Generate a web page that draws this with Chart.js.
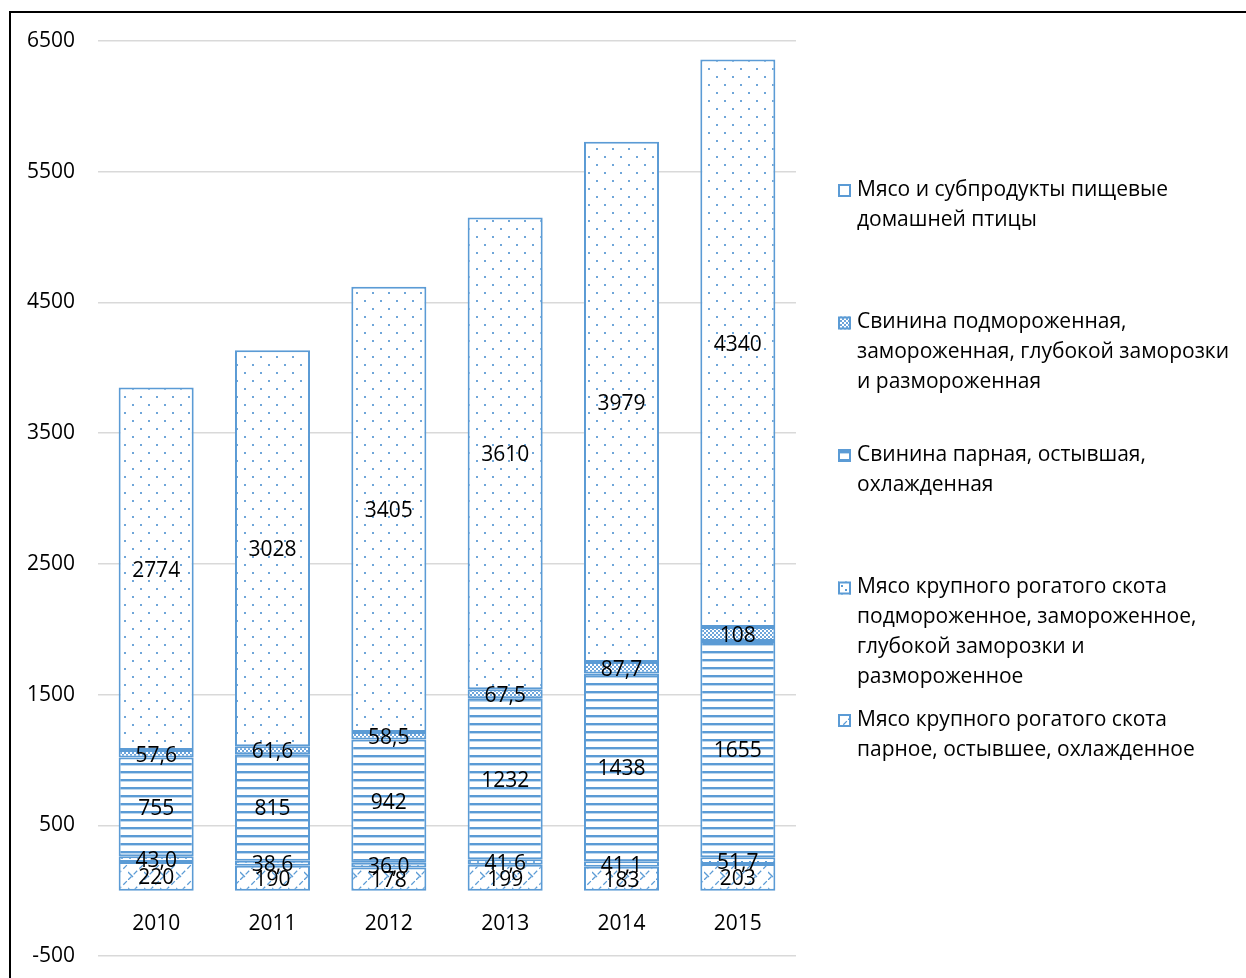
<!DOCTYPE html>
<html>
<head>
<meta charset="utf-8">
<script src="https://cdn.jsdelivr.net/npm/chart.js@4.4.1/dist/chart.umd.min.js"></script>
<style>
html, body { margin: 0; padding: 0; background: #fff; }
#wrap { position: relative; width: 1246px; height: 978px; overflow: hidden; }
#frame { position: absolute; left: 9px; top: 11px; width: 1260px; height: 1010px; border: 2px solid #000; box-sizing: border-box; pointer-events: none; }
canvas { position: absolute; left: 0; top: 0; }
</style>
</head>
<body>
<div id="wrap">
  <canvas id="chart" width="1246" height="978"></canvas>
  <div id="frame"></div>
</div>
<script>
// Данные
const years = ['2010', '2011', '2012', '2013', '2014', '2015'];
const beefChilled = [220, 190, 178, 199, 183, 203];
const beefFrozen = [43.0, 38.6, 36.0, 41.6, 41.1, 51.7];
const porkChilled = [755, 815, 942, 1232, 1438, 1655];
const porkFrozen = [57.6, 61.6, 58.5, 67.5, 87.7, 108];
const poultry = [2774, 3028, 3405, 3610, 3979, 4340];
const yTicks = [-500, 500, 1500, 2500, 3500, 4500, 5500, 6500];

// Подписи легенды (по строкам, как в оригинале)
const nameBeefChilled = ['Мясо крупного рогатого скота', 'парное, остывшее, охлажденное'];
const nameBeefFrozen = ['Мясо крупного рогатого скота', 'подмороженное, замороженное,', 'глубокой заморозки и', 'размороженное'];
const namePorkChilled = ['Свинина парная, остывшая,', 'охлажденная'];
const namePorkFrozen = ['Свинина подмороженная,', 'замороженная, глубокой заморозки', 'и размороженная'];
const namePoultry = ['Мясо и субпродукты пищевые', 'домашней птицы'];

const BLUE = '#5b9bd5';
const FONT = '"Open Sans", "Noto Sans", sans-serif';

const ctx = document.getElementById('chart').getContext('2d');

// Штриховки
function makePattern(size, draw) {
    const c = document.createElement('canvas');
    c.width = size;
    c.height = size;
    const g = c.getContext('2d');
    g.fillStyle = '#fff';
    g.fillRect(0, 0, size, size);
    draw(g);
    return ctx.createPattern(c, 'repeat');
}

const patPoultry = makePattern(16, g => {
    g.fillStyle = '#6fa6d9';
    g.fillRect(4, 4, 2, 2);
    g.fillRect(12, 12, 2, 2);
});
const patPorkFrozen = makePattern(4, g => {
    g.fillStyle = '#6ea5da';
    g.fillRect(0, 0, 2, 2);
    g.fillRect(2, 2, 2, 2);
});
const patPorkChilled = makePattern(8, g => {
    g.fillStyle = BLUE;
    g.fillRect(0, 3, 8, 2.4);
});
const patBeefFrozen = makePattern(8, g => {
    g.fillStyle = BLUE;
    g.fillRect(1, 1, 2, 2);
    g.fillRect(5, 5, 2, 2);
});
const patBeefChilled = makePattern(16, g => {
    g.strokeStyle = BLUE;
    g.lineWidth = 1.3;
    g.setLineDash([5, 3]);
    g.beginPath();
    g.moveTo(0, 16);
    g.lineTo(16, 0);
    g.stroke();
    g.setLineDash([]);
    g.beginPath();
    g.moveTo(0, 8);
    g.lineTo(5, 13);
    g.stroke();
});

function fmt(v) {
    return v >= 100 ? String(v) : v.toFixed(1).replace('.', ',');
}

// Подписи значений в центре сегментов
const valueLabels = {
    id: 'valueLabels',
    afterDatasetsDraw(chart) {
        const c = chart.ctx;
        c.save();
        c.font = '21px ' + FONT;
        c.fillStyle = '#000';
        c.textAlign = 'center';
        c.textBaseline = 'middle';
        chart.data.datasets.forEach((ds, i) => {
            chart.getDatasetMeta(i).data.forEach((bar, j) => {
                c.fillText(fmt(ds.data[j]), bar.x, (bar.y + bar.base) / 2 + 2);
            });
        });
        c.restore();
    }
};

// Легенда справа, многострочная
const sideLegend = {
    id: 'sideLegend',
    afterDraw(chart) {
        const c = chart.ctx;
        const x = chart.chartArea.right + 42;
        c.save();
        c.font = '21px ' + FONT;
        c.textBaseline = 'middle';
        const items = chart.data.datasets.slice().reverse();
        items.forEach((ds, k) => {
            const y = 190 + k * 132.5;
            c.fillStyle = k === 0 ? '#fff' : ds.backgroundColor;
            c.fillRect(x, y - 6, 13, 13);
            c.strokeStyle = BLUE;
            c.lineWidth = 2;
            c.strokeRect(x + 1, y - 5, 11, 11);
            c.fillStyle = '#000';
            ds.lines.forEach((line, n) => {
                c.fillText(line, x + 19, y + n * 30);
            });
        });
        c.restore();
    }
};

function series(lines, data, pattern) {
    return {
        label: lines.join(' '),
        lines: lines,
        data: data,
        backgroundColor: pattern,
        borderColor: BLUE,
        borderWidth: 2,
        borderSkipped: false,
        categoryPercentage: 1,
        barPercentage: 0.645
    };
}

const meatChart = new Chart(ctx, {
    type: 'bar',
    data: {
        labels: years,
        datasets: [
            series(nameBeefChilled, beefChilled, patBeefChilled),
            series(nameBeefFrozen, beefFrozen, patBeefFrozen),
            series(namePorkChilled, porkChilled, patPorkChilled),
            series(namePorkFrozen, porkFrozen, patPorkFrozen),
            series(namePoultry, poultry, patPoultry)
        ]
    },
    options: {
        responsive: false,
        animation: false,
        layout: { padding: { left: 0, right: 450, top: 41, bottom: 22 } },
        plugins: {
            legend: { display: false },
            tooltip: { enabled: false }
        },
        scales: {
            x: {
                stacked: true,
                position: { y: 0 },
                afterFit: s => { s.height = 0; s.paddingTop = 0; s.paddingBottom = 0; },
                grid: { display: false },
                border: { display: false },
                ticks: { color: '#000', padding: 13, font: { family: FONT, size: 21 } }
            },
            y: {
                stacked: true,
                min: -500,
                max: 6500,
                afterBuildTicks: s => { s.ticks = yTicks.map(v => ({ value: v })); },
                afterFit: s => { s.width = 98; s.paddingTop = 0; s.paddingBottom = 0; },
                grid: { color: '#d9d9d9', lineWidth: 1.5, drawTicks: false },
                border: { display: false },
                ticks: {
                    color: '#000',
                    padding: 23,
                    font: { family: FONT, size: 21 },
                    callback: v => String(v)
                }
            }
        }
    },
    plugins: [valueLabels, sideLegend]
});
</script>
</body>
</html>
